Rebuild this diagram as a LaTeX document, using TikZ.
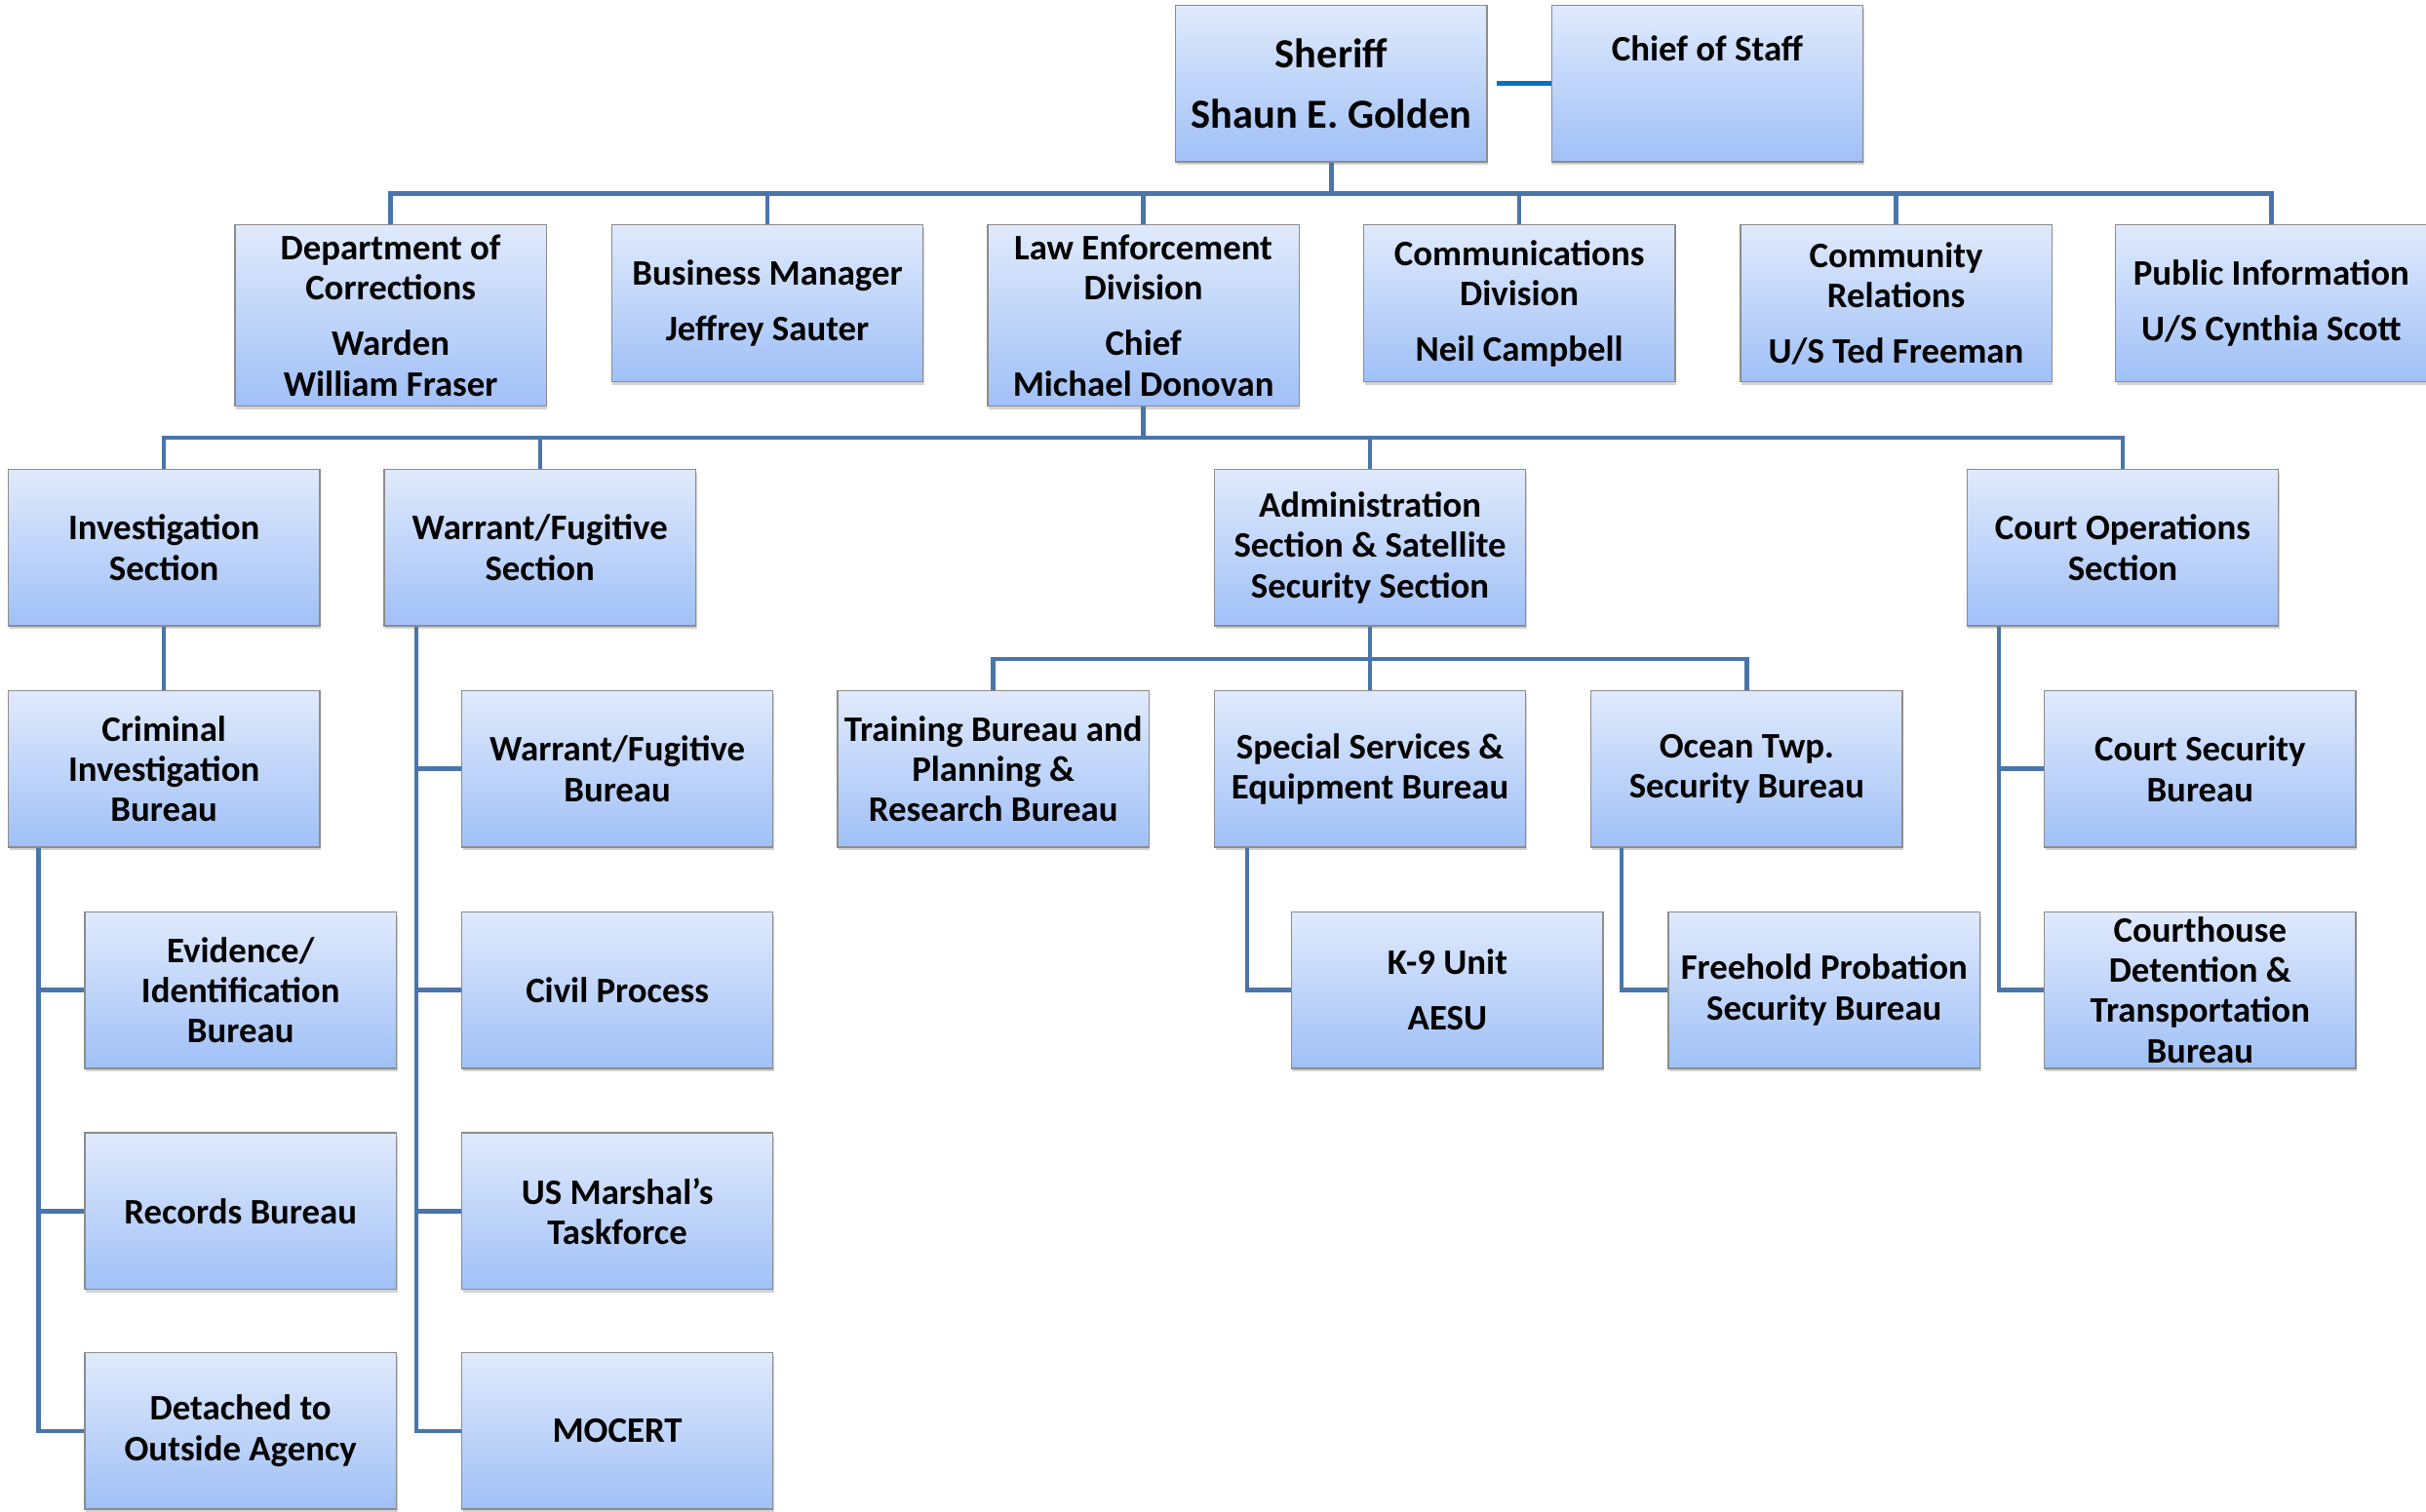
\documentclass[tikz,border=0pt]{standalone}
\usepackage{fontspec}
\setmainfont{Carlito}
\usetikzlibrary{shadows}
\definecolor{boxtop}{RGB}{224,234,252}
\definecolor{boxbottom}{RGB}{160,192,247}
\definecolor{boxline}{RGB}{140,140,140}
\definecolor{linkblue}{RGB}{74,117,170}
\definecolor{staffblue}{RGB}{0,112,192}
\begin{document}
\begin{tikzpicture}[x=0.025cm, y=-0.025cm,
    unit/.style = {shape=rectangle, anchor=north, align=center,
      draw=boxline, line width=0.6pt, inner sep=0pt,
      minimum width=5.03cm, minimum height=2.53cm,
      top color=boxtop, bottom color=boxbottom,
      drop shadow={shadow xshift=0.5pt, shadow yshift=-1.5pt, opacity=0.35},
      font=\bfseries\fontsize{16.5}{18.5}\selectfont},
    tall/.style = {minimum height=2.93cm},
    link/.style = {draw=linkblue, line width=2pt}]
  \useasboundingbox (0,0) rectangle (1568,977);

  \node[unit, font=\bfseries\fontsize{19}{21}\selectfont] (sheriff) at (860.5,3) {Sheriff\\[7pt]Shaun E. Golden};
  \node[unit] (chief) at (1103.5,3) {Chief of Staff\\[8.5pt]\strut};

  \node[unit, tall] (corr) at (252.5,145) {Department of\\Corrections\\[7pt]Warden\\William Fraser};
  \node[unit] (biz) at (496,145) {Business Manager\\[7pt]Jeffrey Sauter};
  \node[unit, tall] (lawenf) at (739,145) {Law Enforcement\\Division\\[7pt]Chief\\Michael Donovan};
  \node[unit] (comms) at (982,145) {Communications\\Division\\[7pt]Neil Campbell};
  \node[unit] (commrel) at (1225.5,145) {Community\\Relations\\[7pt]U/S Ted Freeman};
  \node[unit] (pubinfo) at (1468,145) {Public Information\\[7pt]U/S Cynthia Scott};

  \node[unit] (invsec) at (106,303) {Investigation\\Section};
  \node[unit] (warsec) at (349,303) {Warrant/Fugitive\\Section};
  \node[unit] (admsec) at (885.5,303) {Administration\\Section \& Satellite\\Security Section};
  \node[unit] (courtsec) at (1372,303) {Court Operations\\Section};

  \node[unit] (crimbur) at (106,446) {Criminal\\Investigation\\Bureau};
  \node[unit] (evid) at (155.5,589) {Evidence/\\Identification\\Bureau};
  \node[unit] (records) at (155.5,732) {Records Bureau};
  \node[unit] (detached) at (155.5,874) {Detached to\\Outside Agency};

  \node[unit] (warbur) at (399,446) {Warrant/Fugitive\\Bureau};
  \node[unit] (civil) at (399,589) {Civil Process};
  \node[unit] (marshal) at (399,732) {US Marshal's\\Taskforce};
  \node[unit] (mocert) at (399,874) {MOCERT};

  \node[unit] (trainbur) at (642,446) {Training Bureau and\\Planning \&\\Research Bureau};
  \node[unit] (specbur) at (885.5,446) {Special Services \&\\Equipment Bureau};
  \node[unit] (oceanbur) at (1129,446) {Ocean Twp.\\Security Bureau};
  \node[unit] (k9) at (935.5,589) {K-9 Unit\\[7pt]AESU};
  \node[unit] (freehold) at (1179,589) {Freehold Probation\\Security Bureau};

  \node[unit] (courtbur) at (1422,446) {Court Security\\Bureau};
  \node[unit] (detent) at (1422,589) {Courthouse\\Detention \&\\Transportation\\Bureau};

  \coordinate (bus1) at (0,125);
  \coordinate (bus2) at (0,283);
  \coordinate (bus3) at (0,426);
  \coordinate (railcrim) at (25,0);
  \coordinate (railwar) at (269,0);
  \coordinate (railspec) at (806,0);
  \coordinate (railocean) at (1048,0);
  \coordinate (railcourt) at (1292,0);

  \draw[link, draw=staffblue, shorten <=4pt] (sheriff.east) -- (chief.west);

  \draw[link] (sheriff.south) -- (sheriff.south |- bus1);
  \draw[link] (corr.north) -- (corr.north |- bus1) -- (pubinfo.north |- bus1) -- (pubinfo.north);
  \foreach \n in {biz,lawenf,comms,commrel}
    \draw[link] (\n.north) -- (\n.north |- bus1);

  \draw[link] (lawenf.south) -- (lawenf.south |- bus2);
  \draw[link] (invsec.north) -- (invsec.north |- bus2) -- (courtsec.north |- bus2) -- (courtsec.north);
  \foreach \n in {warsec,admsec}
    \draw[link] (\n.north) -- (\n.north |- bus2);

  \draw[link] (invsec.south) -- (crimbur.north);
  \draw[link] (crimbur.south -| railcrim) |- (detached.west);
  \foreach \n in {evid,records}
    \draw[link] (\n.west) -- (\n.west -| railcrim);

  \draw[link] (warsec.south -| railwar) |- (mocert.west);
  \foreach \n in {warbur,civil,marshal}
    \draw[link] (\n.west) -- (\n.west -| railwar);

  \draw[link] (admsec.south) -- (admsec.south |- bus3);
  \draw[link] (trainbur.north) -- (trainbur.north |- bus3) -- (oceanbur.north |- bus3) -- (oceanbur.north);
  \draw[link] (specbur.north) -- (specbur.north |- bus3);
  \draw[link] (specbur.south -| railspec) |- (k9.west);
  \draw[link] (oceanbur.south -| railocean) |- (freehold.west);

  \draw[link] (courtsec.south -| railcourt) |- (detent.west);
  \draw[link] (courtbur.west) -- (courtbur.west -| railcourt);
\end{tikzpicture}
\end{document}
